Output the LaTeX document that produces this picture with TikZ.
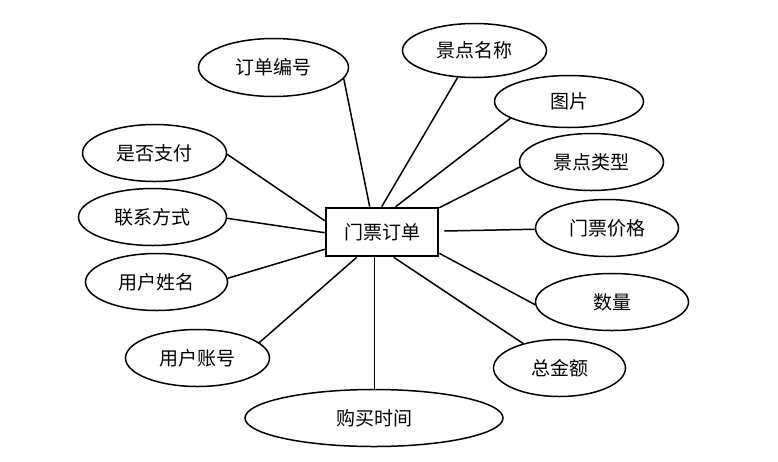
\documentclass[tikz,border=0pt]{standalone}
\usepackage{fontspec}
\newfontfamily\cjk{Noto Sans CJK SC}
\usetikzlibrary{shapes.geometric}
\begin{document}
\begin{tikzpicture}[x=1pt,y=-1pt,
  attr/.style={ellipse, draw, line width=1.5pt, inner sep=0pt, font=\cjk\fontsize{19}{22}\selectfont},
  ent/.style={rectangle, draw, line width=2.6pt, minimum width=112pt, minimum height=48pt, inner sep=0pt, font=\cjk\fontsize{19}{22}\selectfont},
  link/.style={line width=1.5pt}]
\useasboundingbox (0,0) rectangle (778,461);
\fill[white] (0,0) rectangle (778,461);
\node[ent] (box) at (382,232) {门票订单};
\node[attr, minimum width=150pt, minimum height=58pt] (dd) at (273.5,67.5) {订单编号};
\node[attr, minimum width=144pt, minimum height=54pt] (jdmc) at (474.5,50.5) {景点名称};
\node[attr, minimum width=149pt, minimum height=52pt] (tp) at (569,101.5) {图片};
\node[attr, minimum width=144pt, minimum height=57pt] (jdlx) at (591.5,162) {景点类型};
\node[attr, minimum width=143pt, minimum height=57pt] (mpjg) at (607,228) {门票价格};
\node[attr, minimum width=153pt, minimum height=57pt] (sl) at (612,302) {数量};
\node[attr, minimum width=132pt, minimum height=57pt] (zje) at (559.5,368) {总金额};
\node[attr, minimum width=258pt, minimum height=57pt] (gmsj) at (374,418) {购买时间};
\node[attr, minimum width=144pt, minimum height=57pt] (yhzh) at (197.5,358) {用户账号};
\node[attr, minimum width=142pt, minimum height=57pt] (yhxm) at (156.5,282) {用户姓名};
\node[attr, minimum width=148pt, minimum height=57pt] (lxfs) at (152.5,217) {联系方式};
\node[attr, minimum width=144pt, minimum height=57pt] (sfzf) at (154.5,153) {是否支付};
\coordinate (bt) at ([xshift=50pt]box.south west);
\draw[link] (dd.-9.4) -- ([xshift=45pt]box.north west);
\draw[link] (jdmc.-122.5) -- ([xshift=57pt]box.north west);
\draw[link] (tp.-164.9) -- ([xshift=71pt]box.north west);
\draw[link] (jdlx.-176) -- ([yshift=-1pt]box.north east);
\draw[link] (mpjg.-179) -- ([xshift=5pt,yshift=1pt]box.east);
\draw[link] (sl.182) -- ([yshift=4pt]box.south east);
\draw[link] (zje.146.6) -- ([xshift=69pt]box.south west);
\draw[link] (bt) -- (bt |- gmsj.north);
\draw[link] (yhzh.14.8) -- ([xshift=32pt]box.south west);
\draw[link] (yhxm.3.1) -- ([yshift=8pt]box.south west);
\draw[link] (lxfs.-1.5) -- ([yshift=-26pt]box.north west);
\draw[link] (sfzf.-1) -- ([yshift=-14pt]box.north west);
\end{tikzpicture}
\end{document}
